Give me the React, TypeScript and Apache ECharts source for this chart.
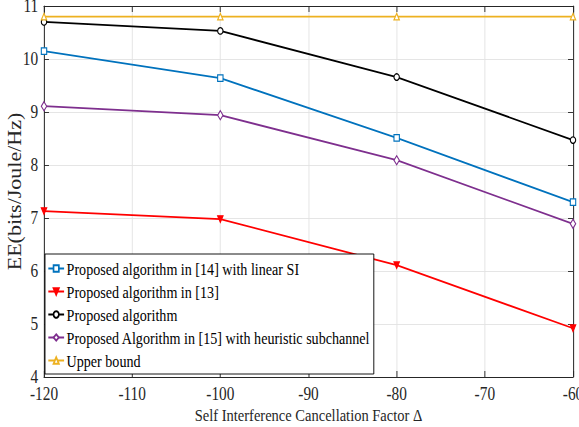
import React, { useEffect, useRef } from "react";
import * as echarts from "echarts";

const xValues = [-120, -100, -80, -60];
const seriesNames = [
  "Proposed algorithm in [14] with linear SI",
  "Proposed algorithm in [13]",
  "Proposed algorithm",
  "Proposed Algorithm in [15] with heuristic subchannel",
  "Upper bound",
];
const blueValues = [10.15, 9.64, 8.51, 7.3];
const redValues = [7.13, 6.98, 6.11, 4.92];
const blackValues = [10.7, 10.53, 9.66, 8.47];
const purpleValues = [9.11, 8.94, 8.09, 6.89];
const upperValues = [10.8, 10.8, 10.8, 10.8];

const FONT = "'Liberation Serif', 'Times New Roman', serif";
const OUT_W = 579;
const OUT_H = 427;
const SX = 0.83;
const IN_W = Math.round(OUT_W / SX);
const S = OUT_W / IN_W;

export default function App() {
  const ref = useRef<HTMLDivElement>(null);
  useEffect(() => {
    document.body.style.margin = "0";
    const chart = echarts.init(ref.current!, null, { renderer: "svg" });
    const mk = (name: string, vals: number[], color: string, symbol: string, filled: boolean) => ({
      name,
      type: "line",
      data: xValues.map((x, i) => [x, vals[i]]),
      symbol,
      symbolSize: symbol === "diamond" ? [6.5, 9] : 6.5,
      showSymbol: true,
      lineStyle: { color, width: 1.8 },
      itemStyle: { color: filled ? color : "#fff", borderColor: color, borderWidth: 1.3 },
      color,
    });
    const axisCommon = {
      axisLine: { show: true, lineStyle: { color: "#262626", width: 1.2 } },
      axisTick: { show: true, inside: true, length: 6, lineStyle: { color: "#262626" } },
    };
    chart.setOption({
      animation: false,
      textStyle: { fontFamily: FONT },
      grid: { left: 44 / S, right: 6 / S, top: 6, bottom: 50, containLabel: false, outerBoundsMode: "none" },
      xAxis: [
        {
          type: "value",
          min: -120,
          max: -60,
          interval: 10,
          ...axisCommon,
          axisLabel: { color: "#262626", fontFamily: FONT, fontSize: 18.5, margin: 8, formatter: (v: number) => String(v) },
          splitLine: { show: true, lineStyle: { color: "#e3e3e3", width: 1 } },
          name: "Self Interference Cancellation Factor Δ",
          nameLocation: "middle",
          nameGap: 29,
          nameMoveOverlap: false,
          nameTextStyle: { color: "#262626", fontFamily: FONT, fontSize: 17.5 },
        },
        {
          type: "value",
          position: "top",
          min: -120,
          max: -60,
          interval: 10,
          ...axisCommon,
          axisLabel: { show: false },
          splitLine: { show: false },
        },
      ],
      yAxis: [
        {
          type: "value",
          min: 4,
          max: 11,
          interval: 1,
          ...axisCommon,
          axisLabel: { color: "#262626", fontFamily: FONT, fontSize: 18.5, margin: 7 },
          splitLine: { show: true, lineStyle: { color: "#e3e3e3", width: 1 } },
          name: "EE(bits/Joule/Hz)",
          nameLocation: "middle",
          nameGap: 20 / S,
          nameMoveOverlap: false,
          nameTextStyle: { color: "#262626", fontFamily: FONT, fontSize: 22 },
        },
        {
          type: "value",
          position: "right",
          min: 4,
          max: 11,
          interval: 1,
          ...axisCommon,
          axisLabel: { show: false },
          splitLine: { show: false },
        },
      ],
      legend: {
        orient: "vertical",
        left: 45 / S,
        top: 254,
        backgroundColor: "#fff",
        borderColor: "#000",
        borderWidth: 1,
        borderRadius: 0,
        padding: [6, 4, 5, 3],
        itemGap: 6,
        itemWidth: 19,
        itemHeight: 8,
        textStyle: { color: "#000", fontFamily: FONT, fontSize: 17, padding: [0, 0, 0, -2] },
        data: seriesNames,
      },
      series: [
        mk(seriesNames[0], blueValues, "#0072BD", "rect", false),
        mk(seriesNames[1], redValues, "#FF0000", "path://M0,0 L10,0 L5,10 Z", true),
        mk(seriesNames[2], blackValues, "#000000", "circle", false),
        mk(seriesNames[3], purpleValues, "#7E2F8E", "diamond", false),
        mk(seriesNames[4], upperValues, "#EDB120", "triangle", false),
      ],
    });
    return () => chart.dispose();
  }, []);
  return (
    <div style={{ width: OUT_W, height: OUT_H, overflow: "hidden", position: "relative", background: "#fff" }}>
      <div
        ref={ref}
        style={{ width: IN_W, height: OUT_H, transform: `scaleX(${S})`, transformOrigin: "0 0" }}
      />
    </div>
  );
}
